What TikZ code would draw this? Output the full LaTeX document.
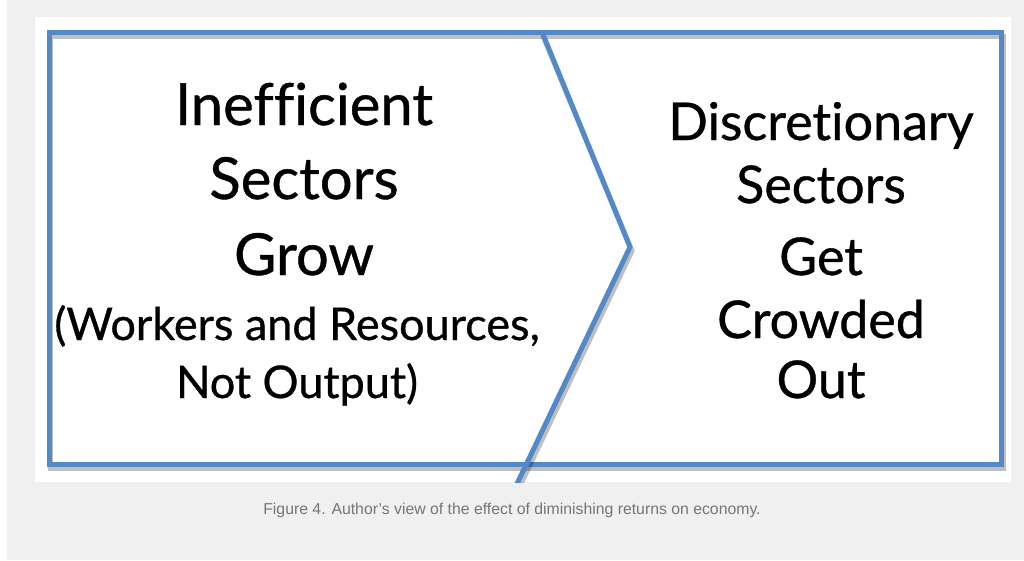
\documentclass[tikz,border=0pt]{standalone}
\usepackage{fontspec}
\setmainfont{Lato}[Ligatures=NoCommon]
\newfontfamily\boxfont{Lato}[Ligatures=NoCommon,FakeBold=0.7]
\newfontfamily\capfont{Liberation Sans}
\usetikzlibrary{positioning}
\definecolor{frameblue}{RGB}{84,137,199}
\definecolor{pagegray}{RGB}{240,240,240}
\definecolor{capgray}{RGB}{118,118,118}

\begin{document}
\begin{tikzpicture}[x=1pt,y=-1pt,
	bigline/.style={anchor=base,inner sep=0pt,font=\boxfont\fontsize{58}{70}\selectfont},
	noteline/.style={anchor=base,inner sep=0pt,font=\boxfont\fontsize{45}{54}\selectfont},
	rightline/.style={anchor=base,inner sep=0pt,font=\boxfont\fontsize{52}{62}\selectfont},
	frameline/.style={draw=frameblue,line width=5pt,line join=miter},
	shadowline/.style={draw=black,opacity=0.25,line width=5pt}]
	
		% page and picture area
		\fill [pagegray] (0,0) rectangle (1024,560);
		\fill [white] (0,0) rectangle (7,560);
		\fill [white] (35,17) rectangle (1011,482);
		\useasboundingbox (0,0) rectangle (1024,560);
		
		% frame with shadow
		\draw [shadowline] (50,36) rectangle (1003,468);
		\draw [frameline] (49,32) rectangle (1001,464);
		
		% chevron
		\begin{scope}
			\clip (35,17) rectangle (1011,482);
			\draw [shadowline] (543,36) -- (632,251) -- (518,490);
			\draw [frameline] (542,32) -- (630,247) -- (515,488);
		\end{scope}
		
		% left text
		\node [bigline] (ineff) at (304,125) {Inefficient};
		\node [bigline] (lsect) at (304,199) {Sectors};
		\node [bigline] (grow) at (304,275) {Grow};
		\node [noteline] (workers) at (297,340) {(Workers and Resources,};
		\node [noteline] (output) at (297,398) {Not Output)};
		
		% right text
		\node [rightline] (discr) at (821,140) {Discretionary};
		\node [rightline] (rsect) at (821,203) {Sectors};
		\node [rightline] (get) at (821,275) {Get};
		\node [rightline] (crowd) at (821,338) {Crowded};
		\node [rightline] (out) at (821,398) {Out};
		
		% caption
		\node [anchor=base,inner sep=0pt,text=capgray,font=\capfont\fontsize{15.8}{18}\selectfont] (caption) at (512,514) {Figure 4. Author’s view of the effect of diminishing returns on economy.};
	
	\end{tikzpicture}
\end{document}
